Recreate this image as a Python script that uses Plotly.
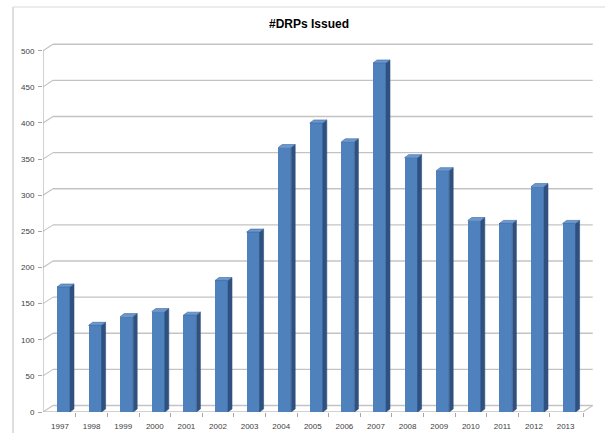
import plotly.graph_objects as go

# DRPs issued per year
years = ["1997", "1998", "1999", "2000", "2001", "2002", "2003", "2004", "2005",
         "2006", "2007", "2008", "2009", "2010", "2011", "2012", "2013"]
drps = [173, 120, 132, 139, 134, 182, 249, 366, 400, 374, 483, 352, 334, 265, 261, 312, 261]
y_ticks = [0, 50, 100, 150, 200, 250, 300, 350, 400, 450, 500]

# pixel geometry of the plotting box
W, H = 605, 433
L, R, T, B = 43, 597, 30, 412
PX_PER_CAT = 31.6
PX_PER_VAL = 0.7226
X0 = -(63.5 - L) / PX_PER_CAT          # left end of the x range
X1 = (R - 63.5) / PX_PER_CAT
Y1 = (B - T) / PX_PER_VAL


def dx(px):
    return px / PX_PER_CAT


def dy(px):
    return px / PX_PER_VAL


idx = list(range(len(years)))
bar_w = dx(13)
side_dx, side_dy = dx(4), dy(3)
wall_dx, wall_dy = dx(10), dy(6.5)

FRONT = "#4f81bd"
SIDE = "#2f5180"
TOP = "#6a98d0"
GRID = "#c3c3c3"

fig = go.Figure()

# front faces
fig.add_trace(go.Bar(x=idx, y=drps, width=bar_w, marker=dict(color=FRONT, line=dict(width=0)),
                     showlegend=False, hoverinfo="skip"))

# side faces and top faces of each column
sx, sy, tx, ty = [], [], [], []
for i, v in zip(idx, drps):
    xr = i + bar_w / 2
    xl = i - bar_w / 2
    sx += [xr, xr + side_dx, xr + side_dx, xr, xr, None]
    sy += [0, side_dy, v + side_dy, v, 0, None]
    tx += [xl, xr, xr + side_dx, xl + side_dx, xl, None]
    ty += [v, v, v + side_dy, v + side_dy, v, None]
fig.add_trace(go.Scatter(x=sx, y=sy, mode="lines", fill="toself", fillcolor=SIDE,
                         line=dict(width=0.6, color=SIDE), showlegend=False, hoverinfo="skip"))
fig.add_trace(go.Scatter(x=tx, y=ty, mode="lines", fill="toself", fillcolor=TOP,
                         line=dict(width=0.6, color="#3d679c"), showlegend=False, hoverinfo="skip"))

shapes = []
back_left = X0 + wall_dx
back_right = dx(592.7 - 63.5)
floor_right = dx(583 - 63.5)
for v in y_ticks:
    # back-wall gridline and its link to the front axis
    shapes.append(dict(type="line", xref="x", yref="y", x0=back_left, x1=back_right,
                       y0=v + wall_dy, y1=v + wall_dy, line=dict(color=GRID, width=1.4), layer="below"))
    shapes.append(dict(type="line", xref="x", yref="y", x0=X0, x1=back_left,
                       y0=v, y1=v + wall_dy, line=dict(color=GRID, width=1.1), layer="below"))
# front value axis
shapes.append(dict(type="line", xref="x", yref="y", x0=X0, x1=X0, y0=0, y1=500,
                   line=dict(color="#a6a6a6", width=1), layer="below"))
# floor front edge and right edge
shapes.append(dict(type="line", xref="x", yref="y", x0=X0, x1=floor_right, y0=0, y1=0,
                   line=dict(color=GRID, width=1.4), layer="below"))
shapes.append(dict(type="line", xref="x", yref="y", x0=floor_right, x1=back_right, y0=0, y1=wall_dy,
                   line=dict(color=GRID, width=1.1), layer="below"))
# chart frame
fx0 = (13 - L) / (R - L)
fy1 = (B - 7) / (B - T)
shapes.append(dict(type="line", xref="paper", yref="paper", x0=fx0, x1=fx0, y0=-0.2, y1=fy1,
                   line=dict(color="#bdbdbd", width=1)))
shapes.append(dict(type="line", xref="paper", yref="paper", x0=fx0, x1=1.2, y0=fy1, y1=fy1,
                   line=dict(color="#d9d9d9", width=1)))

tick_font = dict(family="Liberation Sans", size=8, color="#404040")

fig.update_layout(
    width=W, height=H,
    margin=dict(l=L, r=W - R, t=T, b=H - B, pad=0),
    paper_bgcolor="white", plot_bgcolor="white",
    shapes=shapes,
    title=dict(text="<b>#DRPs Issued</b>", x=309 / W, xanchor="center", xref="container",
               y=1 - 24 / H, yanchor="middle", yref="container",
               font=dict(family="Liberation Sans", size=12, color="#000000")),
    xaxis=dict(range=[X0, X1], tickvals=[i - dx(3.5) for i in idx], ticktext=years,
               showgrid=False, zeroline=False, showline=False, ticks="",
               tickfont=tick_font, ticklabelstandoff=8, automargin=False),
    xaxis2=dict(range=[X0, X1], overlaying="x", anchor="y",
                tickvals=[i + dx(12.3) for i in idx[:-1]] + [floor_right],
                ticks="outside", ticklen=4, tickcolor="#a6a6a6", showticklabels=False,
                showgrid=False, zeroline=False, showline=False, side="bottom", automargin=False),
    yaxis=dict(range=[0, Y1], tickvals=y_ticks, showgrid=False, zeroline=False, showline=False,
               ticks="outside", ticklen=4, tickcolor="#a6a6a6", tickfont=tick_font,
               ticklabelstandoff=2, automargin=False),
    bargap=0,
)
# invisible trace binding the tick-mark axis
fig.add_trace(go.Scatter(x=[X0], y=[0], xaxis="x2", mode="markers", marker=dict(opacity=0),
                         showlegend=False, hoverinfo="skip"))

fig.write_html("out.html")
